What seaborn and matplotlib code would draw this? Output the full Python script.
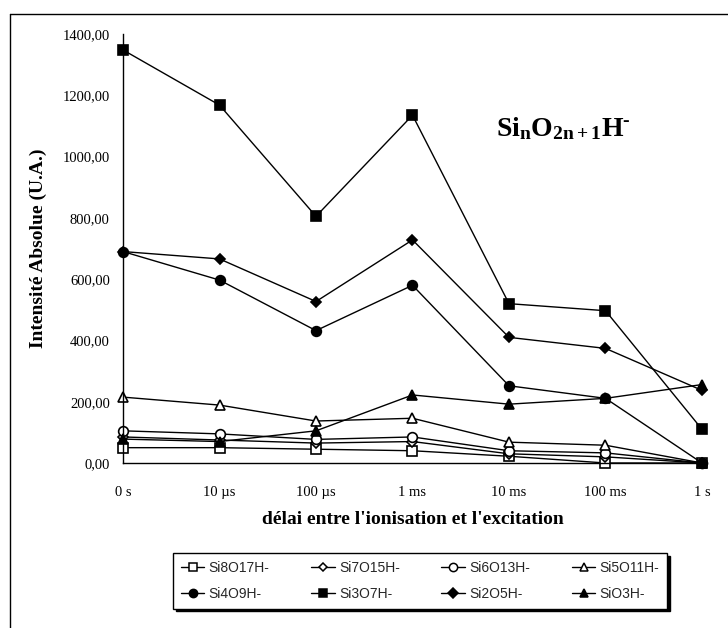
import numpy as np
import pandas as pd
import matplotlib
matplotlib.use("Agg")
import matplotlib.pyplot as plt
from matplotlib.lines import Line2D
from matplotlib.ticker import FuncFormatter
import seaborn as sns

# ---- data ----
delays = ["0 s", "10 µs", "100 µs", "1 ms", "10 ms", "100 ms", "1 s"]

si8o17h = [50, 50, 45, 40, 22, 0, 0]
si7o15h = [85, 75, 65, 70, 30, 20, 0]
si6o13h = [105, 95, 77, 85, 40, 33, 0]
si5o11h = [215, 189, 137, 146, 68, 58, 0]
si4o9h = [690, 597, 432, 580, 252, 211, 0]
si3o7h = [1348, 1168, 805, 1135, 520, 497, 110]
si2o5h = [690, 666, 527, 728, 410, 374, 237]
sio3h = [78, 70, 105, 222, 192, 211, 256]

series_names = ["Si8O17H-", "Si7O15H-", "Si6O13H-", "Si5O11H-",
                "Si4O9H-", "Si3O7H-", "Si2O5H-", "SiO3H-"]
series_vals = [si8o17h, si7o15h, si6o13h, si5o11h,
               si4o9h, si3o7h, si2o5h, sio3h]
markers = ["s", "D", "o", "^", "o", "s", "D", "^"]
filled = [False, False, False, False, True, True, True, True]
msizes = [7, 5, 7, 6.5, 7, 7.5, 5.5, 6.5]

sns.set_theme(style="white")
plt.rcParams["font.family"] = ["Liberation Serif", "DejaVu Serif"]
plt.rcParams["mathtext.fontset"] = "custom"
plt.rcParams["mathtext.rm"] = "Liberation Serif:bold"
plt.rcParams["mathtext.it"] = "Liberation Serif:bold"
plt.rcParams["mathtext.bf"] = "Liberation Serif:bold"

fig = plt.figure(figsize=(7.28, 6.28), dpi=100)
ax = fig.add_axes([123 / 728, 1 - 463 / 628, 579 / 728, 429 / 628])

pos = np.arange(len(delays))
handles = {}
for name, vals, mk, fl, ms in zip(series_names, series_vals, markers, filled, msizes):
    df = pd.DataFrame({"x": pos, "y": vals})
    sns.lineplot(data=df, x="x", y="y", ax=ax, color="black", lw=1.0,
                 marker=mk, markersize=ms, mec="black",
                 mfc="black" if fl else "white", mew=1.2, clip_on=False)
    handles[name] = Line2D([], [], color="black", lw=1.0, marker=mk,
                           markersize=ms * 0.85, mec="black",
                           mfc="black" if fl else "white", mew=1.1)

ax.set_xlim(0, 6)
ax.set_ylim(0, 1400)
ax.set_xticks(pos)
ax.set_xticklabels(delays)
ax.set_yticks(np.arange(0, 1401, 200))
ax.yaxis.set_major_formatter(FuncFormatter(lambda v, p: f"{v:.2f}".replace(".", ",")))

for s in ["top", "right"]:
    ax.spines[s].set_visible(False)
for s in ["left", "bottom"]:
    ax.spines[s].set_color("black")
    ax.spines[s].set_linewidth(1.0)

ax.tick_params(axis="both", direction="inout", length=7, width=1, color="black",
               labelsize=10.5, labelcolor="black")
ax.tick_params(axis="x", pad=13)
ax.tick_params(axis="y", pad=6)
ax.grid(False)

ax.set_xlabel("délai entre l'ionisation et l'excitation", fontsize=14,
              fontweight="bold", labelpad=9, color="black")
ax.set_ylabel("Intensité Absolue (U.A.)", fontsize=14, fontweight="bold",
              labelpad=11, color="black")

ax.text(0.645, 0.78, r"$\mathrm{Si_{n}O_{2n+1}H^{\text{-}}}$", transform=ax.transAxes,
        fontsize=20, ha="left", va="center", color="black")

order = ["Si8O17H-", "Si4O9H-", "Si7O15H-", "Si3O7H-",
         "Si6O13H-", "Si2O5H-", "Si5O11H-", "SiO3H-"]
leg = fig.legend([handles[n] for n in order], order, ncol=4,
                 loc="center", bbox_to_anchor=(420 / 728, 1 - 581 / 628),
                 frameon=True, fancybox=False,
                 shadow={"ox": 2, "oy": -2, "facecolor": "black",
                         "edgecolor": "black", "alpha": 1},
                 prop={"family": "Liberation Sans", "size": 10},
                 handlelength=1.7, handletextpad=0.3, columnspacing=3.0,
                 borderpad=0.55, labelspacing=0.85)
leg.get_frame().set_edgecolor("black")
leg.get_frame().set_linewidth(1.0)

# outer frame (left and top edges only)
fig.add_artist(Line2D([10 / 728, 10 / 728], [0, 1 - 14 / 628],
                      transform=fig.transFigure, color="black", lw=1.0))
fig.add_artist(Line2D([10 / 728, 1], [1 - 14 / 628, 1 - 14 / 628],
                      transform=fig.transFigure, color="black", lw=1.0))

fig.savefig("out.png", dpi=100)
